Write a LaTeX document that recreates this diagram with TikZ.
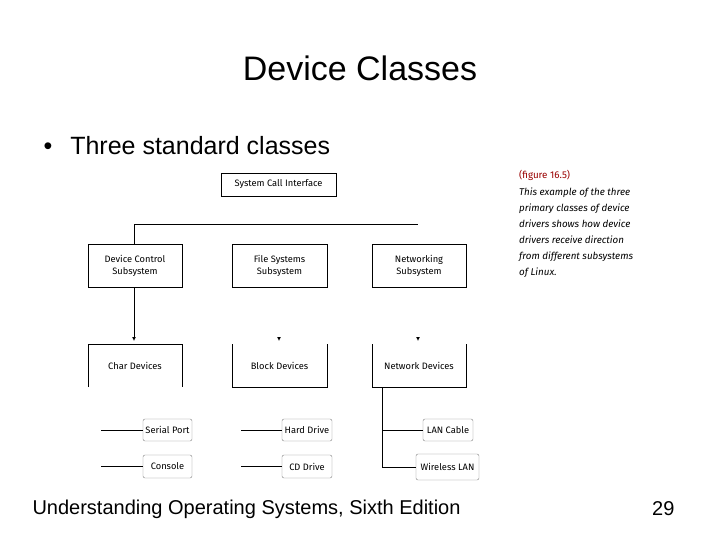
\documentclass[tikz,border=0pt]{standalone}
\usepackage{fontspec}
\usetikzlibrary{arrows.meta}
\setmainfont{Liberation Sans}
\newfontfamily\figfont{Fira Sans}
\begin{document}
\begin{tikzpicture}[x=1pt,y=-1pt,
  box/.style={draw,line width=0.8pt,inner sep=0,align=center,font=\figfont\fontsize{9.3}{12}\selectfont},
  dev/.style={draw=gray,rounded corners=2pt,inner sep=0,font=\figfont\fontsize{9.3}{12}\selectfont},
  ln/.style={line width=0.8pt},
  tip/.style={ln,-{Latex[length=4pt,width=4pt]}}]
\useasboundingbox (0,0) rectangle (720,540);
\node[font=\fontsize{34}{40}\selectfont] (title) at (360,68) {Device Classes};
\node[anchor=west,font=\fontsize{25}{30}\selectfont] (bul) at (40,146) {•\hspace{18pt}Three standard classes};
\node[box,minimum width=115,minimum height=23] (sci) at (278.5,184.5) {System Call Interface};
\node[box,minimum width=94,minimum height=43] (dc) at (135,265.5) {Device Control\\Subsystem};
\node[box,minimum width=95,minimum height=43] (fs) at (279.5,265.5) {File Systems\\Subsystem};
\node[box,minimum width=94,minimum height=43] (ns) at (419,265.5) {Networking\\Subsystem};
\coordinate (hl) at (418,224);
\draw[ln] (dc.north -| 134,0) -- (134,224) -- (hl);
\node[box,draw=none,minimum width=94,minimum height=43] (cd) at (135,365.5) {Char Devices};
\draw[ln] (88,387) -- (88,344) -- (182,344) -- (182,387);
\node[box,draw=none,minimum width=95,minimum height=43] (bd) at (279.5,365.5) {Block Devices};
\draw[ln] (232,344) -- (232,387) -- (327,387) -- (327,344);
\node[box,draw=none,minimum width=94,minimum height=43] (nd) at (419,365.5) {Network Devices};
\draw[ln] (372,344) -- (372,387) -- (466,387) -- (466,344);
\draw[tip] (dc.south -| 134,0) -- (134,341);
\draw[tip] (279,337) -- (279,341);
\draw[tip] (418,337) -- (418,341);
\node[dev,minimum width=49,minimum height=22] (sp) at (167.5,430) {Serial Port};
\node[dev,minimum width=49,minimum height=23] (co) at (167.5,466.5) {Console};
\node[dev,minimum width=50,minimum height=22] (hd) at (307,430) {Hard Drive};
\node[dev,minimum width=50,minimum height=23] (cdr) at (307,466.5) {CD Drive};
\node[dev,minimum width=50,minimum height=22] (lan) at (448,430) {LAN Cable};
\node[dev,minimum width=63,minimum height=26] (wl) at (447.5,467) {Wireless LAN};
\coordinate (a1) at (101,430); \coordinate (a2) at (101,466.5);
\coordinate (b1) at (241,430); \coordinate (b2) at (241,466.5);
\draw[ln] (a1) -- (sp.west); \draw[ln] (a2) -- (co.west);
\draw[ln] (b1) -- (hd.west); \draw[ln] (b2) -- (cdr.west);
\draw[ln] (382,387) -- (382,467) -- (wl.west);
\draw[ln] (382,430) -- (lan.west);
\node[anchor=north west,align=left,inner sep=0,font=\figfont\fontsize{9.8}{16}\selectfont] (cap) at (519,170)
 {\textcolor{red!60!black}{(figure 16.5)}\\[1pt]\itshape This example of the three\\\itshape primary classes of device\\\itshape drivers shows how device\\\itshape drivers receive direction\\\itshape from different subsystems\\\itshape of Linux.};
\node[anchor=west,font=\fontsize{20}{24}\selectfont] (foot) at (29,509) {Understanding Operating Systems, Sixth Edition};
\node[anchor=east,font=\fontsize{20}{24}\selectfont] (pg) at (678,509) {29};
\end{tikzpicture}
\end{document}
